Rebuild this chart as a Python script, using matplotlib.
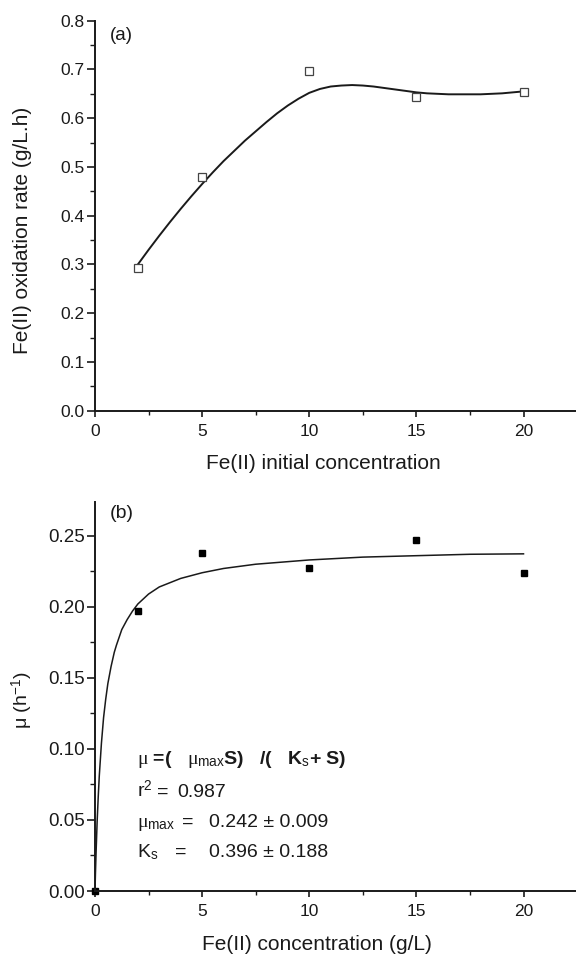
import numpy as np
import matplotlib
matplotlib.use("Agg")
import matplotlib.pyplot as plt
from matplotlib.ticker import MultipleLocator, FormatStrFormatter

plt.rcParams['font.family'] = ['Liberation Sans', 'DejaVu Sans']
plt.rcParams['mathtext.fontset'] = 'custom'
plt.rcParams['mathtext.rm'] = 'Liberation Sans'
plt.rcParams['mathtext.it'] = 'Liberation Serif'
plt.rcParams['mathtext.bf'] = 'Liberation Sans:bold'

INK = '#1a1a1a'

# panel (a): Fe(II) oxidation rate vs initial concentration
conc_a = [2, 5, 10, 15, 20]
rate_a = [0.292, 0.480, 0.697, 0.644, 0.654]
# smoothed curve
curve_a_x = [2, 2.5, 3, 3.5, 4, 4.5, 5, 5.5, 6, 6.5, 7, 7.5, 8, 8.5, 9, 9.5,
             10, 10.5, 11, 11.5, 12, 12.5, 13, 13.5, 14, 14.5, 15, 15.5, 16,
             16.5, 17, 17.5, 18, 18.5, 19, 19.5, 20]
curve_a_y = [0.300, 0.330, 0.359, 0.387, 0.414, 0.440, 0.465, 0.489, 0.512,
             0.533, 0.554, 0.573, 0.592, 0.610, 0.626, 0.640, 0.652, 0.660,
             0.665, 0.667, 0.668, 0.667, 0.665, 0.662, 0.659, 0.656, 0.653,
             0.651, 0.650, 0.649, 0.649, 0.649, 0.649, 0.650, 0.651, 0.653,
             0.655]

# panel (b): specific growth rate vs Fe(II) concentration
conc_b = [0, 2, 5, 10, 15, 20]
mu_b = [0.0, 0.197, 0.238, 0.227, 0.247, 0.224]
# Monod fit curve
curve_b_x = [0, 0.02, 0.05, 0.1, 0.15, 0.2, 0.3, 0.4, 0.5, 0.6, 0.75, 0.9,
             1.0, 1.25, 1.5, 1.75, 2.0, 2.5, 3.0, 3.5, 4.0, 5.0, 6.0, 7.5,
             10.0, 12.5, 15.0, 17.5, 20.0]
curve_b_y = [0.0, 0.012, 0.027, 0.049, 0.066, 0.081, 0.104, 0.122, 0.135,
             0.146, 0.158, 0.168, 0.173, 0.184, 0.191, 0.197, 0.202, 0.209,
             0.214, 0.217, 0.220, 0.224, 0.227, 0.230, 0.233, 0.235, 0.236,
             0.237, 0.2373]

W, H = 576, 956
L = 95
fig = plt.figure(figsize=(W / 100, H / 100), dpi=100)
ax1 = fig.add_axes([L / W, 1 - 410.7 / H, (W - L) / W, 390 / H])
ax2 = fig.add_axes([L / W, 1 - 891 / H, (W - L) / W, 389.3 / H])


def style(ax, xfs, yfs):
    for s in ['top', 'right']:
        ax.spines[s].set_visible(False)
    for s in ['left', 'bottom']:
        ax.spines[s].set_linewidth(1.4)
        ax.spines[s].set_color(INK)
    ax.set_xlim(0, 22.45)
    ax.xaxis.set_major_locator(MultipleLocator(5))
    ax.xaxis.set_minor_locator(MultipleLocator(2.5))
    ax.tick_params(axis='x', which='major', direction='out', length=4.5, width=1.2,
                   labelsize=xfs, colors=INK, pad=5)
    ax.tick_params(axis='x', which='minor', direction='out', length=2.8, width=1.0,
                   colors=INK)
    ax.tick_params(axis='y', which='major', direction='out', length=5.5, width=1.2,
                   labelsize=yfs, colors=INK, pad=2)
    ax.tick_params(axis='y', which='minor', direction='out', length=3.5, width=1.0,
                   colors=INK)


# (a)
style(ax1, 12.5, 12.5)
ax1.set_ylim(0, 0.8)
ax1.yaxis.set_major_locator(MultipleLocator(0.1))
ax1.yaxis.set_minor_locator(MultipleLocator(0.05))
ax1.yaxis.set_major_formatter(FormatStrFormatter('%.1f'))
ax1.plot(curve_a_x, curve_a_y, color=INK, lw=1.4)
ax1.plot(conc_a, rate_a, ls='none', marker='s', ms=5.2, mfc='white',
         mec='#444444', mew=0.9)
ax1.set_xlabel('Fe(II) initial concentration', fontsize=15, color=INK)
ax1.xaxis.set_label_coords(0.474, -0.112)
ax1.set_ylabel('Fe(II) oxidation rate (g/L.h)', fontsize=15, color=INK)
ax1.yaxis.set_label_coords(-0.131, 0.463)
ax1.text(0.031, 0.983, '(a)', transform=ax1.transAxes, fontsize=13.5, color=INK,
         va='top', ha='left')

# (b)
style(ax2, 12.5, 13.5)
ax2.set_ylim(0, 0.274)
ax2.yaxis.set_major_locator(MultipleLocator(0.05))
ax2.yaxis.set_minor_locator(MultipleLocator(0.025))
ax2.yaxis.set_major_formatter(FormatStrFormatter('%.2f'))
ax2.plot(curve_b_x, curve_b_y, color=INK, lw=1.1)
ax2.plot(conc_b, mu_b, ls='none', marker='s', ms=4.9, color='black', clip_on=False)
ax2.set_xlabel('Fe(II) concentration (g/L)', fontsize=15, color=INK)
ax2.xaxis.set_label_coords(0.461, -0.113)
ax2.set_ylabel(r'$\mathrm{\mu}$ (h$^{\mathrm{-1}}$)', fontsize=14, color=INK)
ax2.yaxis.set_label_coords(-0.125, 0.489)
ax2.text(0.031, 0.992, '(b)', transform=ax2.transAxes, fontsize=14, color=INK,
         va='top', ha='left')

# fit annotation
tx = 0.0867
ax2.text(tx, 0.326, r'$\mu$ =(   $\mu_{\mathrm{max}}$S)   /(   K$_{\mathrm{s}}$+ S)',
         transform=ax2.transAxes, fontsize=14, fontweight='bold', color=INK)
ax2.text(tx, 0.2407, r'r$^{\mathrm{2}}$', transform=ax2.transAxes,
         fontsize=14, color=INK)
ax2.text(0.128, 0.2407, '=', transform=ax2.transAxes, fontsize=14, color=INK)
ax2.text(0.172, 0.2407, '0.987', transform=ax2.transAxes, fontsize=14, color=INK)
ax2.text(tx, 0.1636, r'$\mu_{\mathrm{max}}$', transform=ax2.transAxes,
         fontsize=14, color=INK)
ax2.text(tx, 0.0866, r'K$_{\mathrm{s}}$', transform=ax2.transAxes,
         fontsize=14, color=INK)
for yy, ex, val in [(0.1636, 0.180, '0.242 \u00b1 0.009'),
                    (0.0866, 0.166, '0.396 \u00b1 0.188')]:
    ax2.text(ex, yy, '=', transform=ax2.transAxes, fontsize=14, color=INK)
    ax2.text(0.236, yy, val, transform=ax2.transAxes, fontsize=14, color=INK)

fig.savefig('out.png', dpi=100)
